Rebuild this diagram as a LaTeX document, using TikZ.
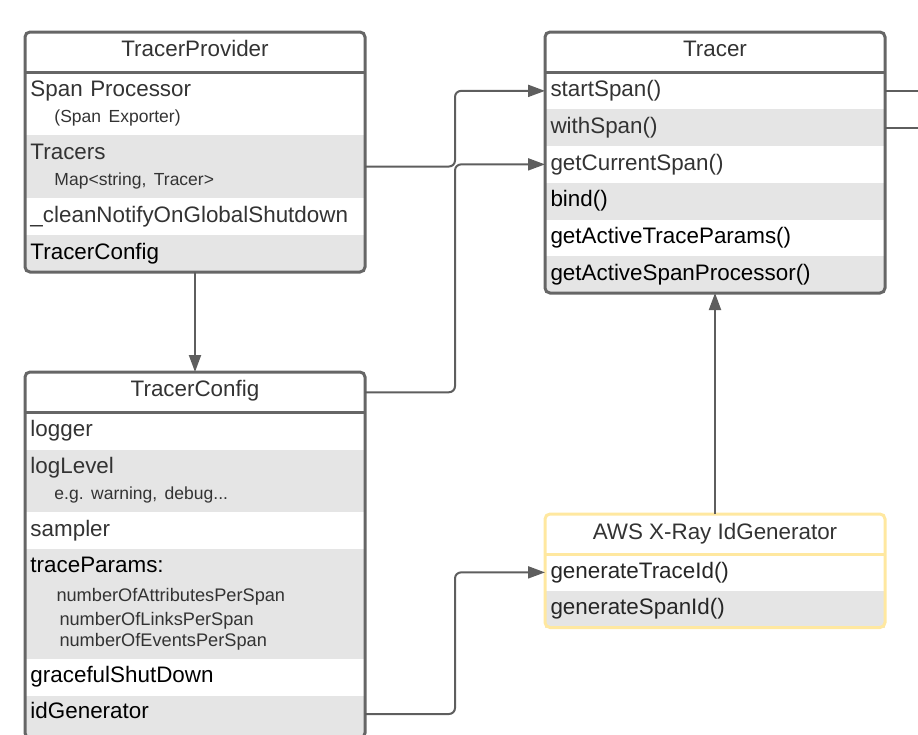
\documentclass[tikz,border=0pt]{standalone}
\usepackage{fontspec}
\setmainfont{Liberation Sans}
\usetikzlibrary{arrows.meta,positioning}
\frenchspacing
\definecolor{boxgray}{HTML}{666666}
\definecolor{linegray}{HTML}{5E5E5E}
\definecolor{rowgray}{HTML}{E5E5E5}
\definecolor{txtgray}{HTML}{333333}
\definecolor{awsyellow}{HTML}{FFE8A0}
\newcommand{\umlrow}{\fontsize{22.4}{26}\selectfont}
\newcommand{\umlsub}{\fontsize{17.5}{26}\selectfont}
\newcommand{\umlparam}{\fontsize{18.2}{26}\selectfont}
\begin{document}
\begin{tikzpicture}[x=1pt,y=-1pt]
    \tikzstyle{arrow} = [-{Triangle[length=17pt,width=12pt]}, line width=2pt,
        draw=linegray, rounded corners=6pt]
    \tikzstyle{link} = [line width=2pt, draw=linegray]
    \tikzstyle{head} = [rectangle, minimum width=340pt, minimum height=40.5pt,
        inner sep=0pt, outer sep=0pt, text height=16pt, text depth=8.5pt,
        text=txtgray, font=\umlrow]
    \tikzstyle{row} = [rectangle, minimum width=340pt, text width=329pt,
        inner xsep=5.5pt, inner ysep=0pt, outer sep=0pt, align=left,
        text=txtgray, font=\umlrow]
    \tikzstyle{rowg} = [row, fill=rowgray]
    \tikzstyle{umlframe} = [line width=3pt, draw=boxgray, rounded corners=5pt]

    \useasboundingbox (0,0) rectangle (918,734);
    \clip (0,0) rectangle (918,734);

    \node(tphead) [head] at (25,32) [anchor=north west] {TracerProvider};
    \node(spanproc) [row, minimum height=62.5pt, below=0pt of tphead]
        {Span Processor\\ \hspace*{24pt}{\umlsub (Span Exporter)}};
    \node(tracers) [rowg, minimum height=63pt, below=0pt of spanproc]
        {Tracers\\ \hspace*{24pt}{\umlsub Map<string, Tracer>}};
    \node(cleanup) [row, minimum height=37pt, below=0pt of tracers]
        {\_cleanNotifyOnGlobalShutdown};
    \node(tpconfig) [rowg, minimum height=37pt, below=0pt of cleanup,
        text=black] {TracerConfig};
    \draw[umlframe] (tphead.south west) -- (tphead.south east);
    \draw[umlframe] (tphead.north west) rectangle (tpconfig.south east);

    \node(trhead) [head] at (545,32) [anchor=north west] {Tracer};
    \node(startspan) [row, minimum height=36.75pt, below=0pt of trhead]
        {startSpan()};
    \node(withspan) [rowg, minimum height=36.75pt, below=0pt of startspan]
        {withSpan()};
    \node(curspan) [row, minimum height=36.75pt, below=0pt of withspan]
        {getCurrentSpan()};
    \node(bindspan) [rowg, minimum height=36.75pt, below=0pt of curspan,
        text=black] {bind()};
    \node(actparams) [row, minimum height=36.75pt, below=0pt of bindspan,
        text=black] {getActiveTraceParams()};
    \node(actproc) [rowg, minimum height=36.75pt, below=0pt of actparams,
        text=black] {getActiveSpanProcessor()};
    \draw[umlframe] (trhead.south west) -- (trhead.south east);
    \draw[umlframe] (trhead.north west) rectangle (actproc.south east);

    \node(tchead) [head] at (25,372) [anchor=north west] {TracerConfig};
    \node(logger) [row, minimum height=37pt, below=0pt of tchead] {logger};
    \node(loglevel) [rowg, minimum height=62pt, below=0pt of logger]
        {logLevel\\ \hspace*{24pt}{\umlsub e.g. warning, debug...}};
    \node(sampler) [row, minimum height=37.5pt, below=0pt of loglevel]
        {sampler};
    \node(traceparams) [rowg, minimum height=109.5pt, below=0pt of sampler]
        {\textcolor{black}{traceParams:}\\[3pt]
        \hspace*{26pt}{\umlparam numberOfAttributesPerSpan}\\[-2pt]
        \hspace*{29pt}{\umlparam numberOfLinksPerSpan}\\[-4.5pt]
        \hspace*{29pt}{\umlparam numberOfEventsPerSpan}};
    \node(graceful) [row, minimum height=37pt, below=0pt of traceparams,
        text=black] {gracefulShutDown};
    \node(idgen) [rowg, minimum height=42.5pt, below=0pt of graceful,
        text height=15.5pt, text depth=13pt, text=black] {idGenerator};
    \draw[umlframe] (tchead.south west) -- (tchead.south east);
    \draw[umlframe] (tchead.north west) rectangle (idgen.south east);

    \node(awshead) [head, minimum height=40pt, text height=16.8pt,
        text depth=6pt] at (545,514) [anchor=north west]
        {AWS X-Ray IdGenerator};
    \node(traceid) [row, minimum height=36.75pt, below=0pt of awshead,
        text=black!85] {generateTraceId()};
    \node(spanid) [rowg, minimum height=36.75pt, below=0pt of traceid,
        text=black!85] {generateSpanId()};
    \draw[umlframe, draw=awsyellow] (awshead.south west) -- (awshead.south east);
    \draw[umlframe, draw=awsyellow] (awshead.north west) rectangle (spanid.south east);

    \coordinate (offstart) at ([xshift=40pt]startspan.east);
    \coordinate (offwith) at ([xshift=40pt]withspan.east);

    \draw[arrow] (tracers.east) -- ++(90,0) |- (startspan.west);
    \draw[arrow] (tchead.east) -- ++(90,0) |- (curspan.west);
    \draw[arrow] ([yshift=2.75pt]idgen.east) -- ++(90,0) |- (traceid.west);
    \draw[arrow] (tpconfig.south) -- (tchead.north);
    \draw[arrow] (awshead.north) -- (actproc.south);
    \draw[link] (startspan.east) -- (offstart);
    \draw[link] (withspan.east) -- (offwith);
\end{tikzpicture}
\end{document}
